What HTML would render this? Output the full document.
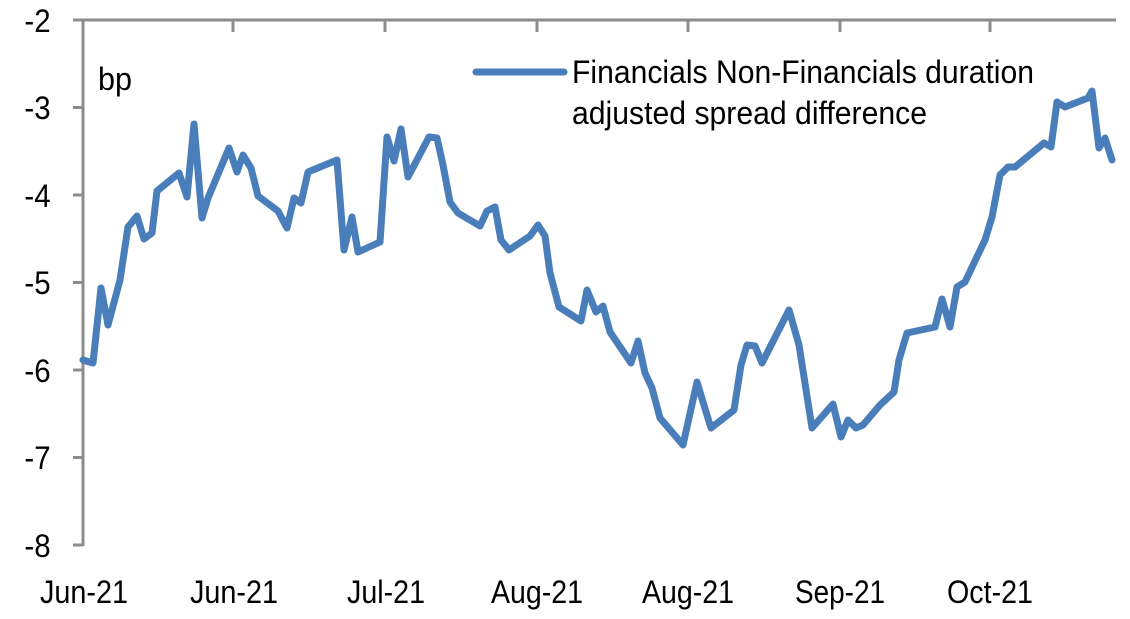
<!DOCTYPE html>
<html><head><meta charset="utf-8"><style>
html,body{margin:0;padding:0;background:#fff;}
svg{display:block;font-family:"Liberation Sans",Arial,sans-serif;}
</style></head><body>
<svg width="1130" height="619" viewBox="0 0 1130 619">
<g stroke="#8c8c8c" stroke-width="3" fill="none">
<line x1="73" y1="20" x2="1116" y2="20"/>
<line x1="83" y1="20" x2="83" y2="546"/>
<line x1="73" y1="107.5" x2="83" y2="107.5"/>
<line x1="73" y1="195" x2="83" y2="195"/>
<line x1="73" y1="282.5" x2="83" y2="282.5"/>
<line x1="73" y1="370" x2="83" y2="370"/>
<line x1="73" y1="457.5" x2="83" y2="457.5"/>
<line x1="73" y1="545" x2="83" y2="545"/>
<line x1="233" y1="20" x2="233" y2="32"/>
<line x1="385" y1="20" x2="385" y2="32"/>
<line x1="537" y1="20" x2="537" y2="32"/>
<line x1="688" y1="20" x2="688" y2="32"/>
<line x1="840" y1="20" x2="840" y2="32"/>
<line x1="990" y1="20" x2="990" y2="32"/>
</g>
<g font-size="32" fill="#000" text-anchor="end" transform="scale(0.92,1)">
<text x="55" y="32">-2</text>
<text x="55" y="119">-3</text>
<text x="55" y="207">-4</text>
<text x="55" y="294">-5</text>
<text x="55" y="382">-6</text>
<text x="55" y="469">-7</text>
<text x="55" y="557">-8</text>
</g>
<g font-size="32" fill="#000">
<text x="40" y="603" textLength="88" lengthAdjust="spacingAndGlyphs">Jun-21</text>
<text x="190" y="603" textLength="88" lengthAdjust="spacingAndGlyphs">Jun-21</text>
<text x="347" y="603" textLength="78" lengthAdjust="spacingAndGlyphs">Jul-21</text>
<text x="491" y="603" textLength="92" lengthAdjust="spacingAndGlyphs">Aug-21</text>
<text x="642" y="603" textLength="92" lengthAdjust="spacingAndGlyphs">Aug-21</text>
<text x="795" y="603" textLength="90" lengthAdjust="spacingAndGlyphs">Sep-21</text>
<text x="947" y="603" textLength="86" lengthAdjust="spacingAndGlyphs">Oct-21</text>
</g>
<text x="98" y="90" font-size="32" textLength="34" lengthAdjust="spacingAndGlyphs">bp</text>
<line x1="476" y1="72" x2="564" y2="72" stroke="#4a7ebb" stroke-width="7" stroke-linecap="round"/>
<text x="572" y="83" font-size="32" textLength="462" lengthAdjust="spacingAndGlyphs">Financials Non-Financials duration</text>
<text x="572" y="124" font-size="32" textLength="355" lengthAdjust="spacingAndGlyphs">adjusted spread difference</text>
<polyline fill="none" stroke="#4a7ebb" stroke-width="7" stroke-linejoin="round" stroke-linecap="round" points="83,360 93,363 101,288 108,325 120,280 128,227 137,216 144,239 152,233 157,191 179,173 187,197 194,124 202,218 208,198 229,148 237,172 243,155 251,168 258,196 278,211 287,228 294,198 301,203 308,172 337,160 344,250 352,217 358,252 380,242 387,137 394,161 401,129 408,177 429,137 437,138 443,165 450,202 458,213 480,226 487,211 495,207 501,240 509,250 530,236 538,225 545,236 550,273 559,307 581,321 587,290 596,312 603,306 610,332 631,363 638,341 645,373 652,388 660,418 683,445 697,382 703,402 711,428 734,410 741,365 747,345 755,346 762,363 789,310 799,345 812,428 833,404 841,437 848,420 856,428 863,425 880,405 894,392 899,360 907,333 935,327 942,299 950,327 957,287 965,282 985,240 992,217 1000,175 1008,167 1015,167 1044,143 1051,147 1057,102 1065,107 1088,98 1092,91 1099,148 1105,138 1112,160"/>
</svg>
</body></html>
